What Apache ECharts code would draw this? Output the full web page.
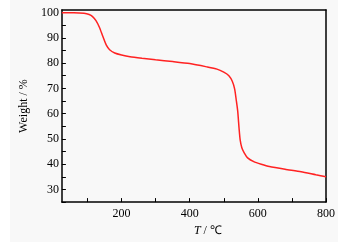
<!doctype html>
<html>
<head>
<meta charset="utf-8">
<title>TGA</title>
<style>
  html, body { margin: 0; padding: 0; background: #fff; }
  #main { position: absolute; left: 10px; top: 0; width: 328px; height: 242px; }
</style>
</head>
<body>
<div id="main"></div>
<script src="https://cdn.jsdelivr.net/npm/echarts@6/dist/echarts.min.js"></script>
<script>
var temps = [25, 60, 90, 105, 115, 125, 135, 145, 155, 165, 180, 200, 225, 260, 300, 350, 400, 450, 480, 500, 515, 525, 532, 537, 541, 545, 548, 553, 560, 570, 588, 610, 634, 680, 727, 770, 800];
var weights = [99.9, 99.9, 99.7, 99.2, 98.4, 96.8, 94.2, 90.6, 87.2, 85.3, 84.0, 83.2, 82.5, 81.9, 81.3, 80.6, 79.8, 78.5, 77.6, 76.4, 75.0, 72.8, 69.7, 65.0, 60.9, 54.0, 49.7, 46.5, 44.5, 42.5, 41.0, 40.0, 39.1, 38.0, 37.0, 35.8, 35.0];
var xLabels = [200, 400, 600, 800];
var xTicks = [100, 200, 300, 400, 500, 600, 700, 800];
var yLabels = [30, 40, 50, 60, 70, 80, 90, 100];
var yTicks = [25, 30, 35, 40, 45, 50, 55, 60, 65, 70, 75, 80, 85, 90, 95, 100];

var chart = echarts.init(document.getElementById('main'));
var font = 'Liberation Serif';
var lineStyle = { color: '#000', width: 1.5 };

chart.setOption({
    backgroundColor: '#f8f8f8',
    animation: false,
    grid: { left: 38, top: 10, right: 11, bottom: 29 },
    xAxis: [{
        type: 'value', min: 25, max: 800,
        axisLine: { onZero: false, lineStyle: lineStyle },
        axisTick: { inside: true, length: 4, customValues: xTicks, lineStyle: { color: '#000' } },
        axisLabel: { customValues: xLabels, color: '#000', fontFamily: font, fontSize: 12, margin: 6 },
        splitLine: { show: false },
        name: '{i|T} / ℃',
        nameLocation: 'middle',
        nameGap: 20,
        nameTextStyle: {
            color: '#000', fontFamily: font, fontSize: 12, padding: [0, 0, 0, 28],
            rich: { i: { fontStyle: 'italic', fontFamily: font, fontSize: 12, color: '#000' } }
        }
    }, {
        type: 'value', min: 25, max: 800, position: 'top',
        axisLine: { show: true, onZero: false, lineStyle: lineStyle },
        axisTick: { show: false }, axisLabel: { show: false }, splitLine: { show: false }
    }],
    yAxis: [{
        type: 'value', min: 25, max: 101,
        axisLine: { show: true, onZero: false, lineStyle: lineStyle },
        axisTick: { show: true, inside: true, length: 4, customValues: yTicks, lineStyle: { color: '#000' } },
        axisLabel: { customValues: yLabels, color: '#000', fontFamily: font, fontSize: 12, margin: 3 },
        splitLine: { show: false },
        name: 'Weight / %',
        nameLocation: 'middle',
        nameGap: 27,
        nameTextStyle: { color: '#000', fontFamily: font, fontSize: 12 }
    }, {
        type: 'value', min: 25, max: 101, position: 'right',
        axisLine: { show: true, onZero: false, lineStyle: lineStyle },
        axisTick: { show: false }, axisLabel: { show: false }, splitLine: { show: false }
    }],
    series: [{
        type: 'line',
        data: temps.map(function (t, i) { return [t, weights[i]]; }),
        smooth: 0.2,
        showSymbol: false,
        lineStyle: { color: '#ff2222', width: 1.5 }
    }]
});
</script>
</body>
</html>
